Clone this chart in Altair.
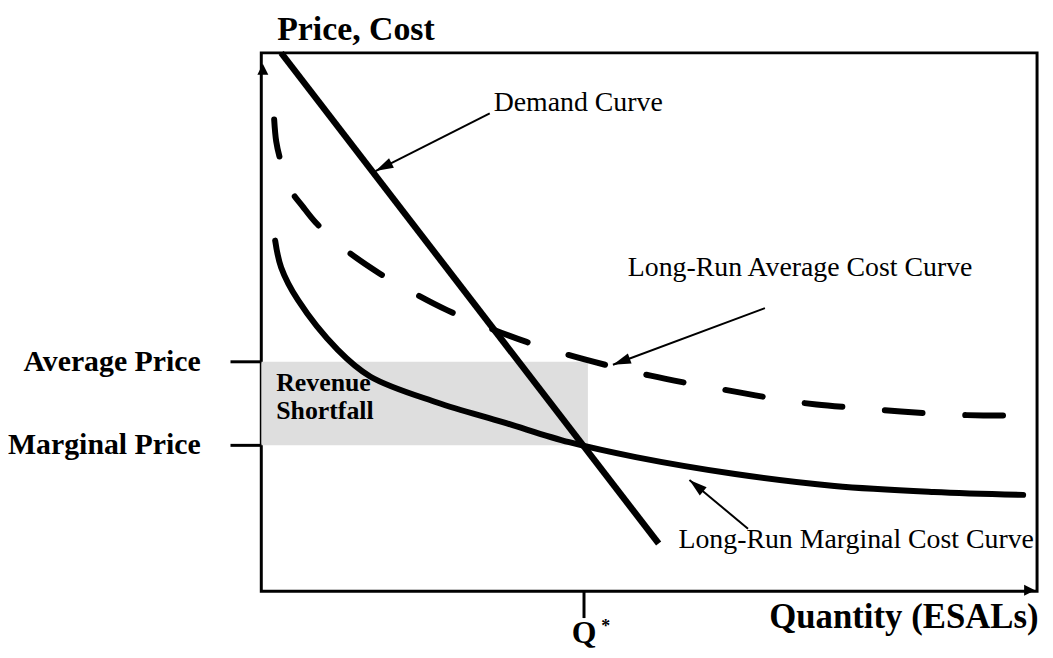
import altair as alt
import pandas as pd

# ---- data (quantity and price in arbitrary units 0-100) ----
demand_q = [2.56, 51.22]
demand_p = [100.0, 8.86]

lrmc_q = [1.79, 2.56, 4.74, 9.86, 14.08, 22.66, 31.24, 39.69, 48.27, 61.08, 73.88, 86.68, 98.21]
lrmc_p = [65.13, 60.15, 54.06, 44.83, 39.85, 35.06, 31.37, 27.68, 24.91, 21.77, 19.56, 18.45, 17.90]

lrac_q = [1.66, 1.92, 2.43, 3.71, 5.38, 7.04, 10.50, 15.24, 19.46, 23.94, 29.07, 34.19,
          39.56, 45.33, 50.19, 55.95, 61.08, 66.84, 71.57, 77.72, 82.46, 88.35, 93.09, 98.46]
lrac_p = [87.64, 83.58, 80.26, 74.72, 71.40, 68.45, 63.84, 59.04, 55.54, 52.21, 49.08, 46.31,
          43.91, 41.70, 40.04, 38.38, 37.08, 35.61, 34.69, 33.95, 33.39, 32.84, 32.66, 32.66]

q_star = 41.6
avg_price = 42.62
marg_price = 27.1
shortfall_right = 42.1

price_labels = ["Average Price", "Marginal Price"]
price_levels = [avg_price, marg_price]

ann_labels = ["Demand Curve", "Long-Run Average Cost Curve", "Long-Run Marginal Cost Curve"]
ann_text_q = [29.96, 47.25, 53.78]
ann_text_p = [90.59, 59.96, 9.50]
ann_tail_q = [29.45, 64.92, 62.74]
ann_tail_p = [88.75, 52.58, 11.62]
ann_head_q = [14.72, 45.33, 55.19]
ann_head_p = [78.04, 42.07, 20.66]
ann_head_angle = [243.2, 249.6, 309.7]

FONT = "Liberation Serif"
W, H = 781, 542

xs = alt.Scale(domain=[0, 100], nice=False, zero=False)
ys = alt.Scale(domain=[0, 100], nice=False, zero=False)


def X(f):
    return alt.X(f, type="quantitative", scale=xs, axis=None)


def Y(f):
    return alt.Y(f, type="quantitative", scale=ys, axis=None)


# shaded revenue shortfall
rect_df = pd.DataFrame({"q": [0], "q2": [shortfall_right], "p": [marg_price], "p2": [avg_price]})
shade = alt.Chart(rect_df).mark_rect(fill="#dedede", opacity=1).encode(
    x=X("q"), x2="q2", y=Y("p"), y2="p2")

lrac = alt.Chart(pd.DataFrame({"q": lrac_q, "p": lrac_p})).mark_line(
    color="black", strokeWidth=6, strokeDash=[38, 43], strokeCap="round",
    interpolate="catmull-rom").encode(x=X("q"), y=Y("p"), order="q:Q")

lrmc = alt.Chart(pd.DataFrame({"q": lrmc_q, "p": lrmc_p})).mark_line(
    color="black", strokeWidth=6, strokeCap="round", interpolate="catmull-rom").encode(
    x=X("q"), y=Y("p"), order="q:Q")

demand = alt.Chart(pd.DataFrame({"q": demand_q, "p": demand_p})).mark_line(
    color="black", strokeWidth=6.5).encode(x=X("q"), y=Y("p"))

# tick marks on the axes
tick_df = pd.DataFrame({
    "q": [-3.97, -3.97, q_star],
    "q2": [0, 0, q_star],
    "p": [avg_price, marg_price, 0],
    "p2": [avg_price, marg_price, -4.98],
})
ticks = alt.Chart(tick_df).mark_rule(color="black", strokeWidth=3).encode(
    x=X("q"), x2="q2", y=Y("p"), y2="p2")

# axis arrow heads
axis_arrow_df = pd.DataFrame({"q": [0.2, 99.74], "p": [97.97, 0.2], "a": [0, 90]})
axis_arrows = alt.Chart(axis_arrow_df).mark_point(
    shape="M0,0L-0.5,1L0.5,1Z", filled=True, size=484, color="black", opacity=1).encode(
    x=X("q"), y=Y("p"), angle=alt.Angle("a:Q", scale=None))

# annotation arrows
ann_df = pd.DataFrame({"q": ann_tail_q, "p": ann_tail_p, "q2": ann_head_q, "p2": ann_head_p,
                       "a": ann_head_angle})
ann_lines = alt.Chart(ann_df).mark_rule(color="black", strokeWidth=2).encode(
    x=X("q"), x2="q2", y=Y("p"), y2="p2")
ann_heads = alt.Chart(ann_df).mark_point(
    shape="M0,0L-0.3,1L0.3,1Z", filled=True, size=1300, color="black", opacity=1).encode(
    x=X("q2"), y=Y("p2"), angle=alt.Angle("a:Q", scale=None))

ann_text = alt.Chart(pd.DataFrame({"q": ann_text_q, "p": ann_text_p, "t": ann_labels})).mark_text(
    font=FONT, fontSize=28, align="left", baseline="middle", color="black").encode(
    x=X("q"), y=Y("p"), text="t:N")

price_text = alt.Chart(pd.DataFrame({"q": [-7.81, -7.81], "p": price_levels, "t": price_labels})).mark_text(
    font=FONT, fontSize=30, fontWeight="bold", align="right", baseline="middle", color="black").encode(
    x=X("q"), y=Y("p"), text="t:N")

short_text = alt.Chart(pd.DataFrame({"q": [1.92, 1.92], "p": [38.75, 33.39],
                                     "t": ["Revenue", "Shortfall"]})).mark_text(
    font=FONT, fontSize=26, fontWeight="bold", align="left", baseline="middle", color="black").encode(
    x=X("q"), y=Y("p"), text="t:N")

title_text = alt.Chart(pd.DataFrame({"q": [2.05], "p": [102.4], "t": ["Price, Cost"]})).mark_text(
    font=FONT, fontSize=34, fontWeight="bold", align="left", baseline="alphabetic", color="black").encode(
    x=X("q"), y=Y("p"), text="t:N")

xtitle_text = alt.Chart(pd.DataFrame({"q": [100.2], "p": [-6.83], "t": ["Quantity (ESALs)"]})).mark_text(
    font=FONT, fontSize=35, fontWeight="bold", align="right", baseline="alphabetic", color="black").encode(
    x=X("q"), y=Y("p"), text="t:N")

q_text = alt.Chart(pd.DataFrame({"q": [41.6], "p": [-9.6], "t": ["Q"]})).mark_text(
    font=FONT, fontSize=32, fontWeight="bold", align="center", baseline="alphabetic", color="black").encode(
    x=X("q"), y=Y("p"), text="t:N")

star_text = alt.Chart(pd.DataFrame({"q": [44.4], "p": [-7.6], "t": ["*"]})).mark_text(
    font=FONT, fontSize=18, fontWeight="bold", align="center", baseline="alphabetic", color="black").encode(
    x=X("q"), y=Y("p"), text="t:N")

chart = alt.layer(
    shade, lrac, lrmc, demand, ticks, axis_arrows, ann_lines, ann_heads,
    ann_text, price_text, short_text, title_text, xtitle_text, q_text, star_text
).properties(
    width=W, height=H,
    autosize=alt.AutoSizeParams(type="none"),
    padding={"left": 255, "top": 43, "right": 8, "bottom": 63},
).configure_view(stroke="black", strokeWidth=3)

chart.save("out.html", embed_options={"renderer": "svg", "actions": False})
